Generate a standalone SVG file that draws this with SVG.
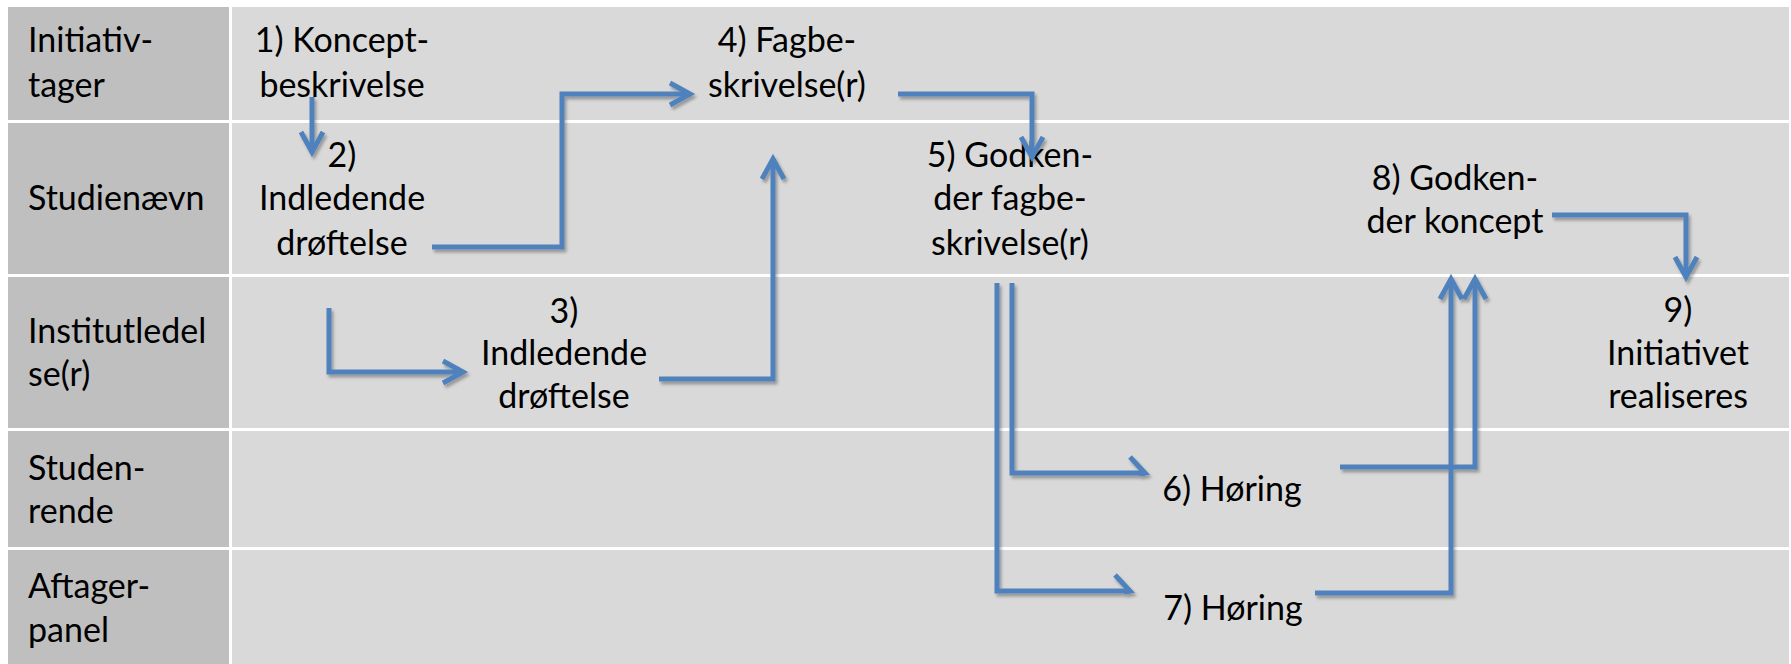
<svg xmlns="http://www.w3.org/2000/svg" width="1791" height="664" viewBox="0 0 1791 664">
<style>
  .lab { fill: #BFBFBF; }
  .cell { fill: #D9D9D9; }
  text { font-family: Lato, "Liberation Sans", sans-serif; font-size: 34px; fill: #000; }
  .c { text-anchor: middle; }
  .conn path { fill: none; stroke: #4F81BD; stroke-width: 5; stroke-linejoin: miter; }
</style>
<defs>
  <marker id="arr" markerUnits="userSpaceOnUse" markerWidth="30" markerHeight="30" viewBox="-25 -15 30 30" refX="0" refY="0" orient="auto" overflow="visible">
    <path d="M-20,-11 L0,0 L-20,11" fill="none" stroke="#4F81BD" stroke-width="5" stroke-linejoin="miter"/>
  </marker>
  <marker id="half" markerUnits="userSpaceOnUse" markerWidth="30" markerHeight="30" viewBox="-25 -25 30 30" refX="0" refY="0" orient="auto" overflow="visible">
    <path d="M-15,-16 L0,0 L-6,1" fill="none" stroke="#4F81BD" stroke-width="5" stroke-linejoin="miter"/>
  </marker>
  <filter id="sh" x="-5%" y="-5%" width="110%" height="110%">
    <feDropShadow dx="2" dy="3" stdDeviation="1.5" flood-color="#000" flood-opacity="0.3"/>
  </filter>
</defs>
<rect width="1791" height="664" fill="#FFFFFF"/>
<g id="table">
  <rect class="lab" x="8" y="7" width="221" height="113"/>
  <rect class="cell" x="232" y="7" width="1557" height="113"/>
  <rect class="lab" x="8" y="123" width="221" height="151"/>
  <rect class="cell" x="232" y="123" width="1557" height="151"/>
  <rect class="lab" x="8" y="277" width="221" height="151"/>
  <rect class="cell" x="232" y="277" width="1557" height="151"/>
  <rect class="lab" x="8" y="431" width="221" height="116"/>
  <rect class="cell" x="232" y="431" width="1557" height="116"/>
  <rect class="lab" x="8" y="550" width="221" height="114"/>
  <rect class="cell" x="232" y="550" width="1557" height="114"/>
</g>
<g id="lanes">
  <text x="28" y="52">Initiativ-</text>
  <text x="28" y="97">tager</text>
  <text x="28" y="210">Studienævn</text>
  <text x="28" y="343">Institutledel</text>
  <text x="28" y="386">se(r)</text>
  <text x="28" y="480">Studen-</text>
  <text x="28" y="523">rende</text>
  <text x="28" y="598">Aftager-</text>
  <text x="28" y="642">panel</text>
</g>
<g id="n1"><text class="c" x="342" y="52">1) Koncept-</text><text class="c" x="342" y="97">beskrivelse</text></g>
<g id="n2"><text class="c" x="342" y="167">2)</text><text class="c" x="342" y="210">Indledende</text><text class="c" x="342" y="255">drøftelse</text></g>
<g id="n3"><text class="c" x="564" y="323">3)</text><text class="c" x="564" y="365">Indledende</text><text class="c" x="564" y="408">drøftelse</text></g>
<g id="n4"><text class="c" x="787" y="52">4) Fagbe-</text><text class="c" x="787" y="97">skrivelse(r)</text></g>
<g id="n5"><text class="c" x="1010" y="167">5) Godken-</text><text class="c" x="1010" y="210">der fagbe-</text><text class="c" x="1010" y="255">skrivelse(r)</text></g>
<g id="n6"><text class="c" x="1232" y="501">6) Høring</text></g>
<g id="n7"><text class="c" x="1233" y="620">7) Høring</text></g>
<g id="n8"><text class="c" x="1455" y="190">8) Godken-</text><text class="c" x="1455" y="233">der koncept</text></g>
<g id="n9"><text class="c" x="1678" y="322">9)</text><text class="c" x="1678" y="365">Initiativet</text><text class="c" x="1678" y="408">realiseres</text></g>
<g id="connectors" class="conn" filter="url(#sh)">
  <path d="M312,97 V152" marker-end="url(#arr)"/>
  <path d="M432,247 H562 V94 H690" marker-end="url(#arr)"/>
  <path d="M898,94 H1032 V157" marker-end="url(#arr)"/>
  <path d="M329,308 V372 H463" marker-end="url(#arr)"/>
  <path d="M659,379 H773 V159" marker-end="url(#arr)"/>
  <path d="M1012,283 V473 H1145" marker-end="url(#half)"/>
  <path d="M997,283 V591 H1130" marker-end="url(#half)"/>
  <path d="M1340,467 H1475 V279" marker-end="url(#arr)"/>
  <path d="M1315,593 H1451 V279" marker-end="url(#arr)"/>
  <path d="M1552,215 H1686 V277" marker-end="url(#arr)"/>
</g>
</svg>
